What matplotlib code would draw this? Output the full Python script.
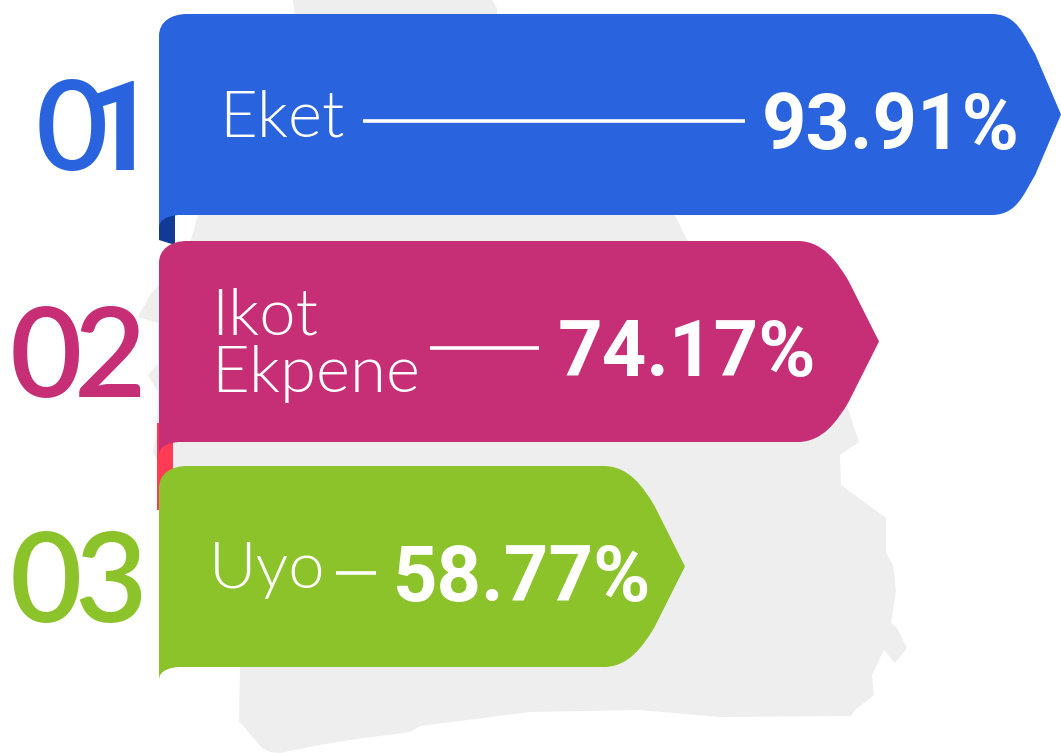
import matplotlib
matplotlib.use('Agg')
import matplotlib.pyplot as plt
from matplotlib.path import Path
from matplotlib.patches import PathPatch, Polygon

places = ["Eket", "Ikot\nEkpene", "Uyo"]
values = [93.91, 74.17, 58.77]
ranks = ["01", "02", "03"]
colors = ["#2A63DE", "#C62E76", "#8CC32B"]
tab_colors = ["#103A96", "#FF3B55", None]

# layout, pixels of the 1061x753 picture
left = 159
tops = [14, 241, 466]
bar_h = 201
tips = [1061, 879, 685]
shoulders = [68, 80, 80]
label_xy = [(219, 118), (211, 345), (209, 570)]
rule_x = [(363, 745), (430, 539), (336, 376)]
value_x = [1020, 816, 651]
rank_x = [[36, 85], [10, 74], [10, 74]]

# grey map outline behind the bars
map_outline = [(293, 0), (492, 0), (497, 8), (497, 20), (500, 30), (675, 215), (687, 240), (845, 400), (859, 442),
               (840, 455), (841, 485), (886, 518), (886, 553), (893, 565), (896, 590), (891, 623), (897, 628),
               (907, 648), (895, 663), (884, 650), (872, 675), (874, 695), (855, 710), (851, 716), (720, 717),
               (640, 710), (530, 712), (420, 726), (410, 732), (350, 740), (320, 745), (280, 753), (270, 752),
               (262, 748), (245, 728), (239, 721), (240, 667),
               (190, 600), (173, 500), (160, 465), (153, 452), (156, 437), (158, 392), (148, 375), (158, 364),
               (158, 323), (138, 317), (150, 295), (158, 286), (191, 240), (198, 215), (300, 60)]


def bar_path(top, tip, shoulder):
    bottom = top + bar_h
    mid = top + bar_h / 2
    sh = tip - shoulder
    cx = sh + shoulder * 0.62
    verts = [(left, top + 22), (left, top + 8), (left + 12, top), (left + 28, top),
             (sh, top),
             (sh + 24, top + 1), (cx - 12, top + 20), (cx, top + 40),
             (tip, mid),
             (cx, bottom - 40),
             (cx - 12, bottom - 20), (sh + 24, bottom - 1), (sh, bottom),
             (left, bottom), (left, top + 22)]
    codes = [Path.MOVETO, Path.CURVE4, Path.CURVE4, Path.CURVE4,
             Path.LINETO,
             Path.CURVE4, Path.CURVE4, Path.CURVE4,
             Path.LINETO, Path.LINETO,
             Path.CURVE4, Path.CURVE4, Path.CURVE4,
             Path.LINETO, Path.CLOSEPOLY]
    return Path(verts, codes)


fig = plt.figure(figsize=(10.61, 7.53), dpi=100)
ax = fig.add_axes([0, 0, 1, 1])
ax.set_xlim(0, 1061)
ax.set_ylim(753, 0)
ax.axis('off')

ax.add_patch(Polygon(map_outline, closed=True, fc='#EEEEEE', ec='none', zorder=1))

# tabs that fold down under each bar
ax.add_patch(PathPatch(Path([(159, 240), (159, 215), (175, 215), (175, 245), (159, 245)],
                            [Path.MOVETO, Path.LINETO, Path.LINETO, Path.LINETO, Path.CLOSEPOLY]),
                       fc=tab_colors[0], ec='none', zorder=2))
ax.add_patch(PathPatch(Path([(157, 423), (173, 423), (173, 480), (159, 510), (157, 510), (157, 423)],
                            [Path.MOVETO, Path.LINETO, Path.LINETO, Path.LINETO, Path.LINETO, Path.CLOSEPOLY]),
                       fc=tab_colors[1], ec='none', zorder=2))

for i in range(3):
    ax.add_patch(PathPatch(bar_path(tops[i], tips[i], shoulders[i]), fc=colors[i], ec='none', zorder=3))
    # left edge runs a bit past the bottom, with a small curved corner
    bottom = tops[i] + bar_h
    ax.add_patch(PathPatch(Path([(left, bottom - 1), (left + 20, bottom - 1), (left + 20, bottom),
                                 (left + 6, bottom + 1), (left, bottom + 6), (left, bottom + 13), (left, bottom - 1)],
                                [Path.MOVETO, Path.LINETO, Path.LINETO, Path.CURVE4, Path.CURVE4, Path.CURVE4,
                                 Path.CLOSEPOLY]),
                           fc=colors[i], ec='none', zorder=3))

    ax.text(label_xy[i][0], label_xy[i][1], places[i], color='white', family='Lato', fontweight=300,
            fontsize=47, va='center', ha='left', linespacing=0.98, zorder=5)
    y = tops[i] + 107
    ax.plot(rule_x[i], [y, y], color='white', lw=2.6, solid_capstyle='butt', zorder=5)
    ax.text(value_x[i], tops[i] + 135, f"{values[i]:.2f}%", color='white', family='Roboto', fontweight='bold',
            fontsize=56, va='baseline', ha='right', zorder=5)
    for ch, x in zip(ranks[i], rank_x[i]):
        # the reference's 1 has no foot serif, Roboto's neither
        fam = 'Roboto' if ch == '1' else 'Lato'
        ax.text(x, tops[i] + 156, ch, color=colors[i], family=fam, fontweight='semibold', fontsize=90,
                va='baseline', ha='left', zorder=4)

fig.savefig('out.png', dpi=100)
